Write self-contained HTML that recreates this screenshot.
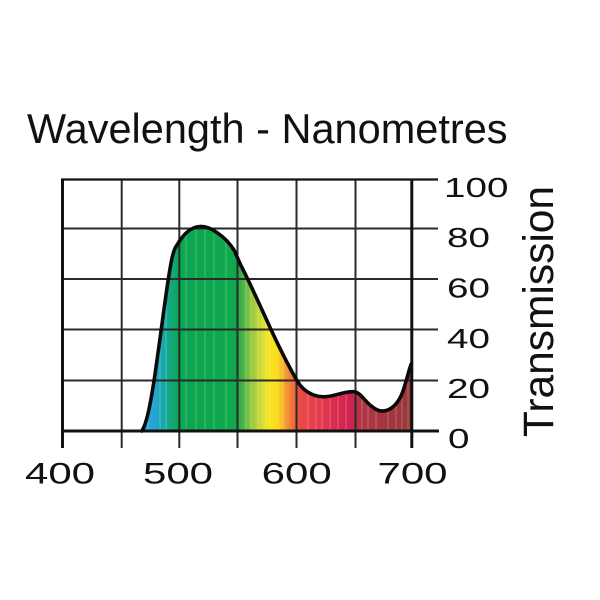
<!DOCTYPE html>
<html><head><meta charset="utf-8"><style>
html,body{margin:0;padding:0;background:#fff;}
svg{display:block;}
text{font-family:"Liberation Sans",Arial,sans-serif;fill:#111;}
</style></head><body>
<svg width="600" height="600" viewBox="0 0 600 600" xmlns="http://www.w3.org/2000/svg">
<defs>
<linearGradient id="spec" gradientUnits="userSpaceOnUse" x1="62" y1="0" x2="412" y2="0">
<stop offset="0.2286" stop-color="#2aa4e4"/>
<stop offset="0.26" stop-color="#28a6d8"/>
<stop offset="0.286" stop-color="#1aa8b0"/>
<stop offset="0.314" stop-color="#12a878"/>
<stop offset="0.337" stop-color="#0aa650"/>
<stop offset="0.497" stop-color="#10a84c"/>
<stop offset="0.52" stop-color="#54b648"/>
<stop offset="0.543" stop-color="#98c840"/>
<stop offset="0.571" stop-color="#d4dc34"/>
<stop offset="0.594" stop-color="#f8e624"/>
<stop offset="0.617" stop-color="#fcd824"/>
<stop offset="0.637" stop-color="#f6a030"/>
<stop offset="0.66" stop-color="#f0703a"/>
<stop offset="0.68" stop-color="#ea4a44"/>
<stop offset="0.737" stop-color="#e23a4e"/>
<stop offset="0.794" stop-color="#d6284e"/>
<stop offset="0.829" stop-color="#cc2450"/>
<stop offset="0.846" stop-color="#b43446"/>
<stop offset="1" stop-color="#963838"/>
</linearGradient>
<clipPath id="cp"><path d="M141.7,431 C147,424 151,400 154,381 C158,355 165,300 168.5,278 C171,262 173,250 177,245 C183,235 190,227 200,226.5 C210,226 225,236 234,250 C237,256 239,262 241.7,267 C250,283 262,310 268,323 C278,345 288,365 296.7,380 C301,388 310,396.5 323.3,396.8 C333,397 343,391.5 353.3,391.7 C360,392 364,400 370,405 C375,409 378,411 382,411 C390,411 396,405 400,398 C405,389 408,372 411.2,364 L411.2,431 Z"/></clipPath>
</defs>

<!-- fill -->
<rect x="140" y="220" width="273" height="212" fill="url(#spec)" clip-path="url(#cp)"/>
<g clip-path="url(#cp)" stroke="#fff" stroke-opacity="0.25" stroke-width="1">
<line x1="148" y1="220" x2="148" y2="431"/><line x1="160" y1="220" x2="160" y2="431"/>
<line x1="166" y1="220" x2="166" y2="431"/><line x1="186" y1="220" x2="186" y2="431"/>
<line x1="196" y1="220" x2="196" y2="431"/><line x1="205" y1="220" x2="205" y2="431"/>
<line x1="214" y1="220" x2="214" y2="431"/><line x1="226" y1="220" x2="226" y2="431"/>
<line x1="246" y1="220" x2="246" y2="431"/><line x1="251" y1="220" x2="251" y2="431"/>
<line x1="258" y1="220" x2="258" y2="431"/><line x1="266" y1="220" x2="266" y2="431"/>
<line x1="283" y1="220" x2="283" y2="431"/><line x1="308" y1="220" x2="308" y2="431"/>
<line x1="316" y1="220" x2="316" y2="431"/><line x1="322" y1="220" x2="322" y2="431"/>
<line x1="330" y1="220" x2="330" y2="431"/><line x1="338" y1="220" x2="338" y2="431"/>
<line x1="346" y1="220" x2="346" y2="431"/><line x1="362" y1="220" x2="362" y2="431"/>
<line x1="368" y1="220" x2="368" y2="431"/><line x1="376" y1="220" x2="376" y2="431"/>
<line x1="388" y1="220" x2="388" y2="431"/><line x1="396" y1="220" x2="396" y2="431"/>
<line x1="402" y1="220" x2="402" y2="431"/><line x1="408" y1="220" x2="408" y2="431"/>
</g>

<!-- grid -->
<g stroke="#2a2a2a" stroke-width="2">
<line x1="62" y1="228.5" x2="438" y2="228.5"/>
<line x1="62" y1="279" x2="438" y2="279"/>
<line x1="62" y1="329.5" x2="438" y2="329.5"/>
<line x1="62" y1="380.5" x2="438" y2="380.5"/>
<line x1="121.7" y1="179.5" x2="121.7" y2="448"/>
<line x1="179.3" y1="179.5" x2="179.3" y2="448"/>
<line x1="237.5" y1="179.5" x2="237.5" y2="448"/>
<line x1="296.5" y1="179.5" x2="296.5" y2="448"/>
<line x1="355.5" y1="179.5" x2="355.5" y2="448"/>
</g>
<g stroke="#111" stroke-width="2.2">
<line x1="61" y1="179.5" x2="438" y2="179.5"/>
</g>
<g stroke="#111" stroke-width="3">
<line x1="61" y1="431" x2="439" y2="431"/>
<line x1="62.5" y1="178.5" x2="62.5" y2="448"/>
<line x1="411.8" y1="178.5" x2="411.8" y2="448"/>
</g>

<!-- curve -->
<path fill="none" stroke="#0a0a0a" stroke-width="3.6" stroke-linejoin="round" stroke-linecap="round" d="M141.7,431 C147,424 151,400 154,381 C158,355 165,300 168.5,278 C171,262 173,250 177,245 C183,235 190,227 200,226.5 C210,226 225,236 234,250 C237,256 239,262 241.7,267 C250,283 262,310 268,323 C278,345 288,365 296.7,380 C301,388 310,396.5 323.3,396.8 C333,397 343,391.5 353.3,391.7 C360,392 364,400 370,405 C375,409 378,411 382,411 C390,411 396,405 400,398 C405,389 408,372 411.2,364"/>

<!-- title -->
<text x="27" y="143" font-size="41.5">Wavelength - Nanometres</text>

<!-- x labels -->
<g font-size="30" text-anchor="middle">
<text transform="translate(60,483.3) scale(1.4,1)">400</text>
<text transform="translate(178,483.3) scale(1.4,1)">500</text>
<text transform="translate(296.7,483.3) scale(1.4,1)">600</text>
<text transform="translate(412.5,483.3) scale(1.4,1)">700</text>
</g>

<!-- y labels -->
<g font-size="28">
<text transform="translate(444,197) scale(1.38,1)">100</text>
<text transform="translate(447,247) scale(1.38,1)">80</text>
<text transform="translate(447,297.5) scale(1.38,1)">60</text>
<text transform="translate(447,348) scale(1.38,1)">40</text>
<text transform="translate(447,398) scale(1.38,1)">20</text>
<text transform="translate(448,448) scale(1.38,1)">0</text>
</g>

<text transform="translate(553,311.5) rotate(-90)" font-size="42.5" text-anchor="middle">Transmission</text>
</svg>
</body></html>
